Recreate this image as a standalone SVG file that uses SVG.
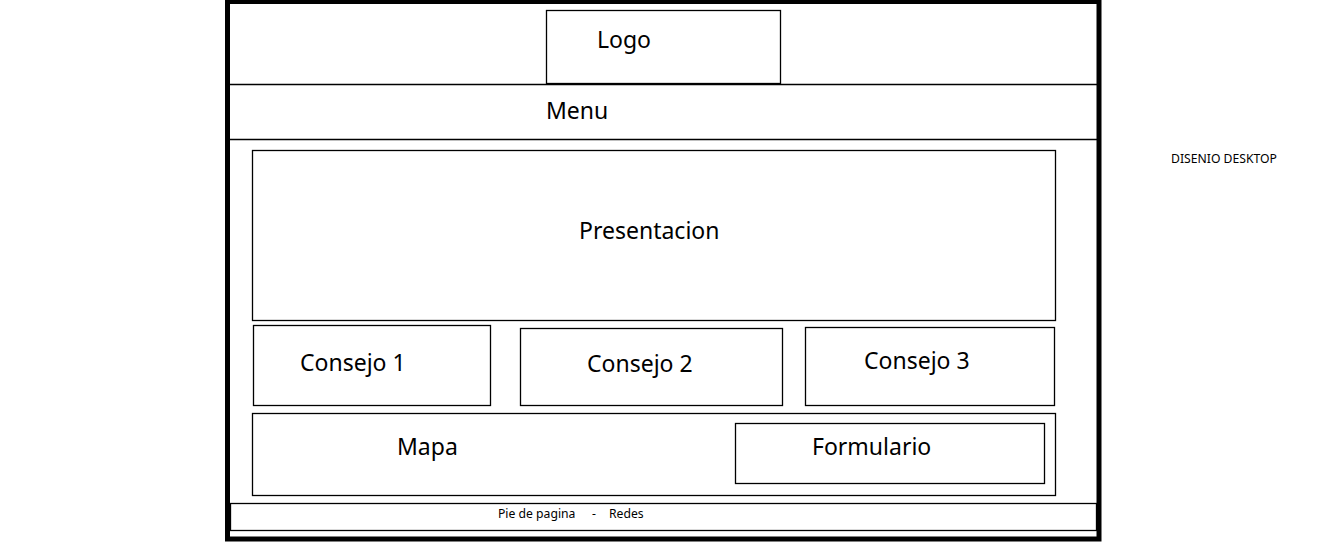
<svg xmlns="http://www.w3.org/2000/svg" width="1340" height="558" viewBox="0 0 1340 558">
<style>
.box{fill:none;stroke:#000;stroke-width:1.3}
.frame{fill:none;stroke:#000;stroke-width:5}
.t{font-family:"Noto Sans","Open Sans",sans-serif;font-size:23px;fill:#000}
.s{font-family:"Noto Sans","Open Sans",sans-serif;font-size:12.2px;fill:#000}
</style>
<rect width="1340" height="558" fill="#fff"/>
<g id="frame">
<rect class="frame" x="227.5" y="1.5" width="871.5" height="537.5"/>
</g>
<g id="logo">
<rect class="box" x="546.5" y="10.5" width="234" height="73"/>
<text class="t" x="597" y="48">Logo</text>
</g>
<g id="menu">
<line class="box" x1="230" y1="84.5" x2="1097" y2="84.5"/>
<line class="box" x1="230" y1="139.5" x2="1097" y2="139.5"/>
<text class="t" x="546" y="119">Menu</text>
</g>
<g id="presentacion">
<rect class="box" x="252.5" y="150.5" width="803" height="170"/>
<text class="t" x="579" y="239">Presentacion</text>
</g>
<g id="consejo1">
<rect class="box" x="253.5" y="325.5" width="237" height="80"/>
<text class="t" x="300" y="371">Consejo 1</text>
</g>
<g id="consejo2">
<rect class="box" x="520.5" y="328.5" width="262" height="77"/>
<text class="t" x="587" y="372">Consejo 2</text>
</g>
<g id="consejo3">
<rect class="box" x="805.5" y="327.5" width="249" height="78"/>
<text class="t" x="864" y="369">Consejo 3</text>
</g>
<g id="mapa">
<rect class="box" x="252.5" y="413.5" width="803" height="82"/>
<text class="t" x="397" y="455">Mapa</text>
</g>
<g id="formulario">
<rect class="box" x="735.5" y="423.5" width="309" height="60"/>
<text class="t" x="812" y="455">Formulario</text>
</g>
<g id="footer">
<rect class="box" x="230.5" y="503.5" width="866" height="27"/>
<text class="s" y="518"><tspan x="498">Pie de pagina</tspan><tspan x="592">-</tspan><tspan x="609">Redes</tspan></text>
</g>
<g id="label">
<text class="s" x="1171" y="163">DISENIO DESKTOP</text>
</g>
<g id="connectors"></g>
</svg>
